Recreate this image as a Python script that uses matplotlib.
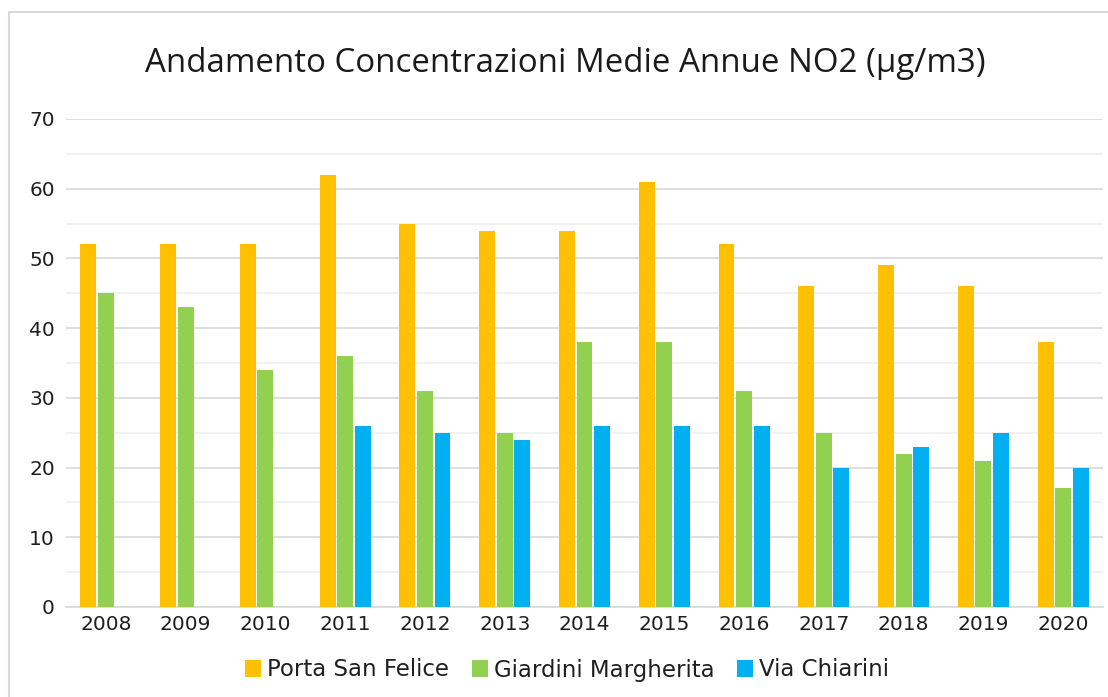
import matplotlib
matplotlib.use("Agg")
import matplotlib.pyplot as plt
import numpy as np
from matplotlib.patches import Rectangle

years = ["2008", "2009", "2010", "2011", "2012", "2013", "2014",
         "2015", "2016", "2017", "2018", "2019", "2020"]
porta_san_felice = [52, 52, 52, 62, 55, 54, 54, 61, 52, 46, 49, 46, 38]
giardini_margherita = [45, 43, 34, 36, 31, 25, 38, 38, 31, 25, 22, 21, 17]
via_chiarini = [np.nan, np.nan, np.nan, 26, 25, 24, 26, 26, 26, 20, 23, 25, 20]

series_names = ["Porta San Felice", "Giardini Margherita", "Via Chiarini"]
colors = ["#FFC000", "#92D050", "#00B0F0"]
title = "Andamento Concentrazioni Medie Annue NO2 (µg/m3)"

W, H = 1108, 697
fig = plt.figure(figsize=(W / 100, H / 100), dpi=100)
fig.patch.set_facecolor("white")

# outer chart frame
fig.add_artist(Rectangle((9 / W, -0.05), 1.2, 1 - 12 / H + 0.05,
                         transform=fig.transFigure, fill=False,
                         edgecolor="#d9d9d9", linewidth=1.5))

ax = fig.add_axes([66 / W, 1 - 607 / H, (1103 - 66) / W, (607 - 119) / H])
x = np.arange(len(years))
width = 0.2
offset = 0.22
for i, (vals, name, c) in enumerate(zip([porta_san_felice, giardini_margherita, via_chiarini],
                                         series_names, colors)):
    ax.bar(x + (i - 1) * offset, vals, width, color=c, label=name, zorder=3)

ax.set_xlim(-0.5, len(years) - 0.5)
ax.set_ylim(0, 70)
ax.set_yticks(np.arange(0, 71, 10))
ax.set_yticks(np.arange(5, 70, 10), minor=True)
ax.set_xticks(x)
ax.set_xticklabels(years)
ax.grid(axis="y", which="major", color="#d9d9d9", linewidth=1.2, zorder=0)
ax.grid(axis="y", which="minor", color="#efefef", linewidth=1.2, zorder=0)
ax.tick_params(axis="both", which="both", length=0, labelsize=14.5,
               labelcolor="#1f1f1f")
ax.tick_params(axis="y", pad=8)
ax.tick_params(axis="x", pad=6)
for s in ["top", "right", "left"]:
    ax.spines[s].set_visible(False)
ax.spines["bottom"].set_color("#d9d9d9")
ax.spines["bottom"].set_linewidth(1.2)
ax.set_axisbelow(True)

fig.text(565 / W, 1 - 64 / H, title, ha="center", va="center",
         fontsize=23.8, family="Open Sans", color="#1a1a1a")

handles, labels = ax.get_legend_handles_labels()
fig.legend(handles, labels, loc="center", bbox_to_anchor=(567 / W, 1 - 670 / H),
           ncol=3, frameon=False, fontsize=16.5, handlelength=0.7, handleheight=0.7,
           handletextpad=0.25, columnspacing=1.0, labelcolor="#1f1f1f")

fig.savefig("out.png", dpi=100)
